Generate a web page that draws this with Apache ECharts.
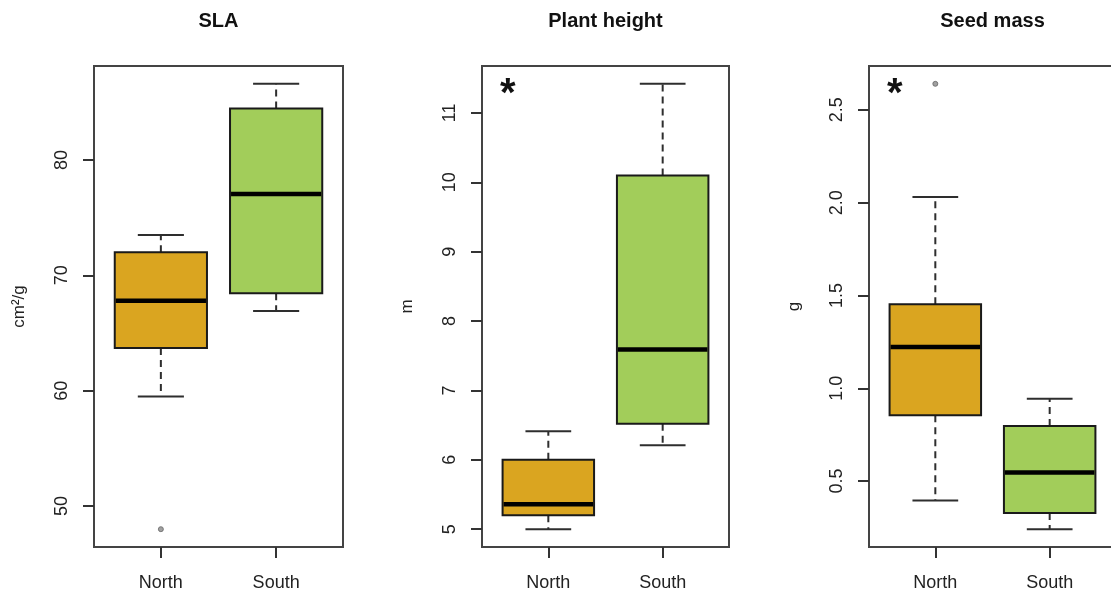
<!DOCTYPE html>
<html>
<head>
<meta charset="utf-8">
<title>Functional traits by region</title>
<script src="https://cdn.jsdelivr.net/npm/echarts@6/dist/echarts.min.js"></script>
<style>
  html, body { margin: 0; padding: 0; background: #fff; }
  #chart { width: 1111px; height: 593px; }
</style>
</head>
<body>
<div id="chart"></div>
<script>
// Groups on the x axis
const categories = ['North', 'South'];

// Five-number summaries per group: [lower whisker, Q1, median, Q3, upper whisker]
const slaNorth = [59.5, 63.7, 67.8, 72.0, 73.5];
const slaSouth = [66.9, 68.45, 77.05, 84.45, 86.6];
const slaOutliers = [[1, 48.0]];

const heightNorth = [5.0, 5.2, 5.36, 6.0, 6.41];
const heightSouth = [6.21, 6.52, 7.59, 10.1, 11.42];
const heightOutliers = [];

const seedNorth = [0.395, 0.855, 1.223, 1.452, 2.03];
const seedSouth = [0.241, 0.328, 0.546, 0.797, 0.944];
const seedOutliers = [[1, 2.64]];

// Tick labels on the value axes
const slaTicks = [50, 60, 70, 80];
const heightTicks = [5, 6, 7, 8, 9, 10, 11];
const seedTicks = [0.5, 1.0, 1.5, 2.0, 2.5];

// Panel titles, units and significance marks
const titles = ['SLA', 'Plant height', 'Seed mass'];
const units = ['cm²/g', 'm', 'g'];
const significant = [false, true, true];

const boxColors = ['#DAA520', '#A2CD5A'];
const FONT = "'Liberation Sans', Arial, sans-serif";

const panels = [
  { stats: [slaNorth, slaSouth], outliers: slaOutliers, ticks: slaTicks, digits: 0 },
  { stats: [heightNorth, heightSouth], outliers: heightOutliers, ticks: heightTicks, digits: 0 },
  { stats: [seedNorth, seedSouth], outliers: seedOutliers, ticks: seedTicks, digits: 1 }
];

// Plot frames
const frameLeft = [94, 482, 869];
const frameWidth = [249, 247, 247];
const frameTop = 66;
const frameHeight = 481;

// Extend the value range by 4% on both ends
function paddedRange(p) {
  const vals = [];
  p.stats.forEach(s => vals.push(...s));
  p.outliers.forEach(o => vals.push(o[1]));
  const lo = Math.min(...vals), hi = Math.max(...vals);
  const pad = (hi - lo) * 0.04;
  return [lo - pad, hi + pad];
}

function renderBox(params, api) {
  const x = api.value(0);
  const v = [1, 2, 3, 4, 5].map(i => api.value(i));
  const cx = api.coord([x, v[2]])[0];
  const y = v.map(val => api.coord([x, val])[1]);
  const boxW = api.size([0.8, 0])[0];
  const capW = api.size([0.4, 0])[0];
  const whisker = { stroke: '#2e2e2e', lineWidth: 2, lineDash: [7, 5] };
  const cap = { stroke: '#2e2e2e', lineWidth: 2 };
  return {
    type: 'group',
    children: [
      { type: 'line', shape: { x1: cx, y1: y[3], x2: cx, y2: y[4] }, style: whisker },
      { type: 'line', shape: { x1: cx, y1: y[1], x2: cx, y2: y[0] }, style: whisker },
      { type: 'line', shape: { x1: cx - capW / 2, y1: y[4], x2: cx + capW / 2, y2: y[4] }, style: cap },
      { type: 'line', shape: { x1: cx - capW / 2, y1: y[0], x2: cx + capW / 2, y2: y[0] }, style: cap },
      {
        type: 'rect',
        shape: { x: cx - boxW / 2, y: y[3], width: boxW, height: y[1] - y[3] },
        style: { fill: boxColors[params.dataIndex], stroke: '#1a1a1a', lineWidth: 2 }
      },
      {
        type: 'line',
        shape: { x1: cx - boxW / 2 + 1, y1: y[2], x2: cx + boxW / 2 - 1, y2: y[2] },
        style: { stroke: '#000', lineWidth: 4.5 }
      }
    ]
  };
}

const grid = [], xAxis = [], yAxis = [], series = [], title = [], graphic = [];

panels.forEach((p, i) => {
  const [ymin, ymax] = paddedRange(p);
  grid.push({
    left: frameLeft[i], top: frameTop, width: frameWidth[i], height: frameHeight,
    show: true, borderColor: '#444', borderWidth: 2, backgroundColor: 'transparent',
    containLabel: false, outerBoundsMode: 'none'
  });
  xAxis.push({
    type: 'value', gridIndex: i, min: 0.42, max: 2.58,
    axisLine: { show: false },
    splitLine: { show: false },
    axisTick: { show: true, inside: false, length: 11, customValues: [1, 2], lineStyle: { color: '#333', width: 2 } },
    axisLabel: {
      customValues: [1, 2], margin: 27,
      formatter: v => categories[Math.round(v) - 1],
      fontFamily: FONT, fontSize: 18, color: '#222'
    }
  });
  yAxis.push({
    type: 'value', gridIndex: i, min: ymin, max: ymax,
    name: units[i], nameLocation: 'middle', nameGap: 66, nameRotate: 90,
    nameTextStyle: { fontFamily: FONT, fontSize: 17, color: '#222' },
    axisLine: { show: false },
    splitLine: { show: false },
    axisTick: { show: true, inside: false, length: 11, customValues: p.ticks, lineStyle: { color: '#333', width: 2 } },
    axisLabel: {
      customValues: p.ticks, rotate: 90, margin: 23,
      formatter: v => Number(v).toFixed(p.digits),
      fontFamily: FONT, fontSize: 18, color: '#222'
    }
  });
  series.push({
    type: 'custom', xAxisIndex: i, yAxisIndex: i,
    renderItem: renderBox,
    encode: { x: 0, y: [1, 2, 3, 4, 5] },
    data: p.stats.map((s, k) => [k + 1, ...s]),
    silent: true
  });
  series.push({
    type: 'scatter', xAxisIndex: i, yAxisIndex: i,
    data: p.outliers,
    symbol: 'circle', symbolSize: 5,
    itemStyle: { color: '#888', borderColor: '#666', borderWidth: 1 },
    silent: true
  });
  title.push({
    text: titles[i],
    left: frameLeft[i] + frameWidth[i] / 2, textAlign: 'center',
    top: 11, padding: 0,
    textStyle: { fontFamily: FONT, fontSize: 20, fontWeight: 'bold', color: '#111' }
  });
  if (significant[i]) {
    graphic.push({
      type: 'text', left: frameLeft[i] + 18, top: 75,
      style: { text: '*', font: "bold 40px 'Liberation Sans', Arial, sans-serif", fill: '#111' }
    });
  }
});

const chart = echarts.init(document.getElementById('chart'), null, { renderer: 'canvas' });
chart.setOption({
  animation: false,
  backgroundColor: '#fff',
  title, grid, xAxis, yAxis, series, graphic
});
</script>
</body>
</html>
